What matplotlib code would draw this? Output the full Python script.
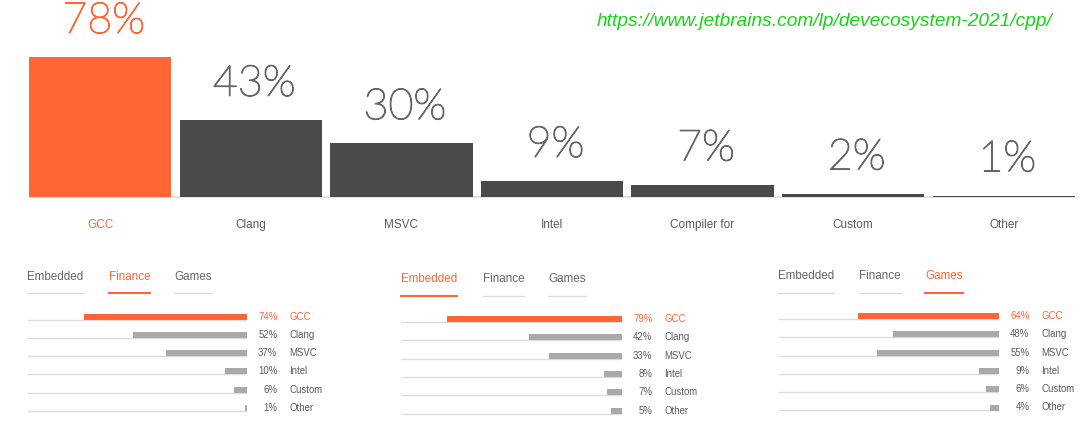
import matplotlib
matplotlib.use("Agg")
import matplotlib.pyplot as plt
from matplotlib.lines import Line2D
import matplotlib.patheffects as pe

# ---------------- data ----------------
categories = ["GCC", "Clang", "MSVC", "Intel", "Compiler for", "Custom", "Other"]
overall = [78, 43, 30, 9, 7, 2, 1]

tab_names = ["Embedded", "Finance", "Games"]
sub_labels = ["GCC", "Clang", "MSVC", "Intel", "Custom", "Other"]
finance = [74, 52, 37, 10, 6, 1]
embedded = [79, 42, 33, 8, 7, 5]
games = [64, 48, 55, 9, 6, 4]
panel_selected = ["Finance", "Embedded", "Games"]
panel_values = [finance, embedded, games]

url = "https://www.jetbrains.com/lp/devecosystem-2021/cpp/"

# ---------------- style ----------------
ORANGE = "#ff6633"
DARK = "#4a4a4a"
GREY_BAR = "#a9a9a9"
TEXT = "#5a5a5a"
LIGHT = "#dcdcdc"
BIG_FONT = ["Lato", "DejaVu Sans"]
SMALL_FONT = ["Liberation Sans", "DejaVu Sans"]

W, H = 1080, 426
fig = plt.figure(figsize=(W / 100, H / 100), dpi=100)
fig.patch.set_facecolor("white")


def fx(px):
    return px / W


def fy(py):
    return 1 - py / H


# ---------------- main bar chart ----------------
pitch = 150.6
first_center = 100.15
bar_w = 142.3 / pitch
left_px = first_center - pitch / 2
right_px = first_center + pitch * 6.5
base_px = 197.3
px_per_pct = 1.795
ax = fig.add_axes([fx(left_px), fy(base_px), fx(right_px - left_px), base_px / H])
xs = list(range(len(categories)))
colors = [ORANGE if i == 0 else DARK for i in xs]
ax.bar(xs, overall, width=bar_w, color=colors, zorder=2)
ax.set_xlim(-0.5, len(categories) - 0.5)
ax.set_ylim(0, base_px / px_per_pct)
ax.axis("off")
ax.hlines(0, -bar_w / 2, len(categories) - 1 + bar_w / 2, color=LIGHT, lw=1.2,
          zorder=1, clip_on=False)
for i, (c, v) in enumerate(zip(categories, overall)):
    col = ORANGE if i == 0 else "#666666"
    ax.annotate(f"{v}%", xy=(i, v), xytext=(2.5, 17.5), textcoords="offset points",
                ha="center", va="baseline", fontsize=31, fontweight="light",
                family=BIG_FONT, color=col, annotation_clip=False,
                path_effects=[pe.withStroke(linewidth=0.9, foreground=col)])
    ax.annotate(c, xy=(i, 0), xytext=(0, -22.2), textcoords="offset points",
                ha="center", va="baseline", fontsize=8.5, family=SMALL_FONT,
                color=ORANGE if i == 0 else TEXT, annotation_clip=False)

# URL
fig.text(fx(596.5), fy(25.5), url, ha="left", va="baseline", fontsize=13.8,
         style="italic", family=SMALL_FONT, color="#14d414")

# ---------------- small panels ----------------
panel_geom = [(27, 247, 316.5), (401, 622, 319), (778, 999, 316)]
row_sp = 18.3
bar_h = 6 / row_sp
tab_dx_px = [0, 81.5, 147]
pt = 72 / 100  # points per pixel

tab_texts = []
for (start, end, row0), sel, vals in zip(panel_geom, panel_selected, panel_values):
    pax = fig.add_axes([fx(start), fy(row0 + 5.5 * row_sp), fx(end - start),
                        6 * row_sp / H])
    rows = list(range(len(sub_labels)))
    pax.set_xlim(100, 0)
    pax.set_ylim(len(sub_labels) - 0.5, -0.5)
    pax.axis("off")
    pax.hlines([r + bar_h / 2 for r in rows], 0, 100, color=LIGHT, lw=1, zorder=1)
    pax.barh(rows, vals, height=bar_h,
             color=[ORANGE if r == 0 else GREY_BAR for r in rows], zorder=2)
    for r, (lab, v) in enumerate(zip(sub_labels, vals)):
        col = ORANGE if r == 0 else TEXT
        pax.annotate(f"{v}%", xy=(0, r), xytext=(30.5 * pt, -3 * pt),
                     textcoords="offset points", ha="right", va="baseline",
                     fontsize=6.9, family=SMALL_FONT, color=col,
                     annotation_clip=False)
        pax.annotate(lab, xy=(0, r), xytext=(42.5 * pt, -3 * pt),
                     textcoords="offset points", ha="left", va="baseline",
                     fontsize=6.9, family=SMALL_FONT, color=col,
                     annotation_clip=False)
    for k, tab in enumerate(tab_names):
        is_sel = tab == sel
        t = pax.annotate(tab, xy=(100, 0), xytext=(tab_dx_px[k] * pt, 36.5 * pt),
                         textcoords="offset points", ha="left", va="baseline",
                         fontsize=8.4, family=SMALL_FONT,
                         color=ORANGE if is_sel else "#666666",
                         annotation_clip=False)
        tab_texts.append((t, is_sel, row0 - 23.5))

fig.canvas.draw()
renderer = fig.canvas.get_renderer()
for t, is_sel, ypx in tab_texts:
    bb = t.get_window_extent(renderer)
    fig.add_artist(Line2D([bb.x0 / W, bb.x1 / W], [fy(ypx), fy(ypx)],
                          transform=fig.transFigure,
                          color=ORANGE if is_sel else LIGHT,
                          lw=1.5 if is_sel else 1.0))

fig.savefig("out.png", dpi=100, facecolor="white")
